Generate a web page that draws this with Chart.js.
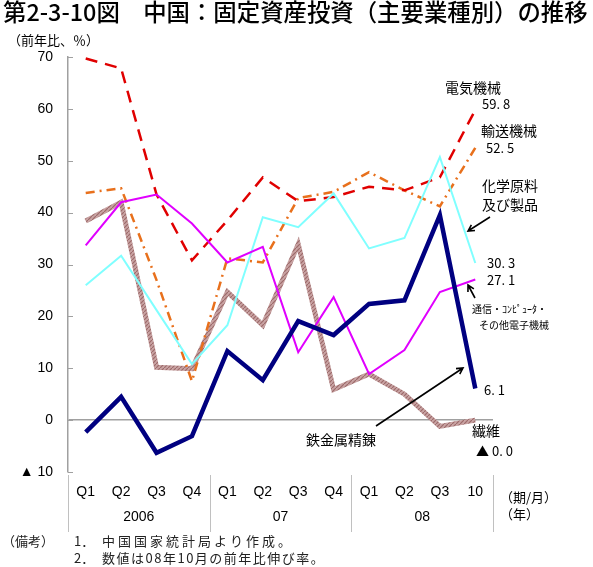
<!DOCTYPE html>
<html>
<head>
<meta charset="utf-8">
<script src="https://cdn.jsdelivr.net/npm/chart.js@4"></script>
<style>
  html, body { margin: 0; padding: 0; background: #fff; }
  #wrap { width: 593px; height: 567px; }
</style>
</head>
<body>
<div id="wrap"><canvas id="chart" width="593" height="567"></canvas></div>
<script>
'use strict';

// categories and year groups
var categories = ['Q1', 'Q2', 'Q3', 'Q4', 'Q1', 'Q2', 'Q3', 'Q4', 'Q1', 'Q2', 'Q3', '10'];
var years = ['2006', '07', '08'];
var yTicks = [-10, 0, 10, 20, 30, 40, 50, 60, 70];

// series values (前年比, %)
var denki  = [69.7, 67.8, 43.5, 30.8, 38.5, 46.8, 42.2, 43.0, 45.0, 44.3, 46.8, 59.8];
var yuso   = [43.8, 44.7, 27.0, 7.5, 31.2, 30.4, 42.8, 44.0, 47.8, 44.3, 41.2, 52.5];
var kagaku = [26.0, 31.7, 21.2, 10.8, 18.3, 39.1, 37.2, 43.7, 33.1, 35.1, 50.7, 30.3];
var tsushin = [33.7, 42.0, 43.5, 37.9, 30.4, 33.4, 13.1, 23.7, 8.9, 13.5, 24.7, 27.1];
var tekko  = [-2.3, 4.5, -6.3, -3.1, 13.3, 7.7, 19.1, 16.4, 22.4, 23.1, 39.5, 6.1];
var seni   = [38.4, 42.0, 10.2, 9.9, 24.7, 18.3, 33.9, 5.9, 8.9, 5.0, -1.2, 0.0];

var JP = '"Noto Sans CJK JP", sans-serif';
var NUM = '"Liberation Sans", Arial, sans-serif';

// striped brush for the textile line
function stripes() {
  var c = document.createElement('canvas');
  c.width = 4; c.height = 4;
  var g = c.getContext('2d');
  g.fillStyle = '#c9a3a3';
  g.fillRect(0, 0, 4, 4);
  g.strokeStyle = '#9c6b6b';
  g.lineWidth = 1.2;
  g.beginPath();
  g.moveTo(0, 4); g.lineTo(4, 0);
  g.stroke();
  return document.getElementById('chart').getContext('2d').createPattern(c, 'repeat');
}

function line(data, color, width, dash) {
  return {
    data: data,
    borderColor: color,
    borderWidth: width,
    borderDash: dash || [],
    pointRadius: 0,
    tension: 0,
    fill: false
  };
}

var txt = function (ctx, s, x, y, font, align) {
  ctx.font = font;
  ctx.textAlign = align || 'left';
  ctx.fillText(s, x, y);
};

var arrow = function (ctx, x1, y1, x2, y2) {
  var a = Math.atan2(y2 - y1, x2 - x1), h = 7;
  ctx.beginPath();
  ctx.moveTo(x1, y1); ctx.lineTo(x2, y2);
  ctx.moveTo(x2 - h * Math.cos(a - 0.5), y2 - h * Math.sin(a - 0.5));
  ctx.lineTo(x2, y2);
  ctx.lineTo(x2 - h * Math.cos(a + 0.5), y2 - h * Math.sin(a + 0.5));
  ctx.stroke();
};

var extras = {
  id: 'extras',
  afterDraw: function (chart) {
    var ctx = chart.ctx, x = chart.scales.x, y = chart.scales.y, area = chart.chartArea;
    ctx.save();
    ctx.fillStyle = '#000';
    ctx.textBaseline = 'middle';

    // title, fitted to width
    var title = '第2-3-10図　中国：固定資産投資（主要業種別）の推移';
    ctx.font = '500 17px ' + JP;
    var sz = 17 * 586 / ctx.measureText(title).width;
    txt(ctx, title, 3, 12, '500 ' + sz.toFixed(1) + 'px ' + JP);

    txt(ctx, '（前年比、％）', 8, 40, '13px ' + JP);

    // inner ticks on y axis
    ctx.strokeStyle = '#a0a0a0';
    ctx.lineWidth = 1;
    yTicks.forEach(function (v) {
      var py = Math.round(y.getPixelForValue(v)) + 0.5;
      ctx.beginPath(); ctx.moveTo(area.left, py); ctx.lineTo(area.left + 5, py); ctx.stroke();
    });

    // year separators and year labels
    var bounds = [area.left];
    [3, 7].forEach(function (i) {
      bounds.push((x.getPixelForValue(i) + x.getPixelForValue(i + 1)) / 2);
    });
    bounds.push(area.right);
    ctx.strokeStyle = '#c0c0c0';
    bounds.forEach(function (bx) {
      var px = Math.round(bx) + 0.5;
      ctx.beginPath(); ctx.moveTo(px, area.bottom + 3); ctx.lineTo(px, area.bottom + 60); ctx.stroke();
    });
    years.forEach(function (s, i) {
      txt(ctx, s, (bounds[i] + bounds[i + 1]) / 2, area.bottom + 45, '14px ' + NUM, 'center');
    });
    txt(ctx, '（期/月）', 500, 497, '13px ' + JP);
    txt(ctx, '（年）', 500, 514, '13px ' + JP);

    // notes
    ctx.fillStyle = '#222';
    txt(ctx, '（備考）', 2, 541, '13px ' + JP);
    txt(ctx, '1．', 74, 541, '13px ' + JP);
    txt(ctx, '2．', 74, 558, '13px ' + JP);
    ctx.letterSpacing = '3px';
    txt(ctx, '中国国家統計局より作成。', 102, 541, '13px ' + JP);
    ctx.letterSpacing = '1.5px';
    txt(ctx, '数値は08年10月の前年比伸び率。', 102, 558, '13px ' + JP);
    ctx.letterSpacing = '0px';
    ctx.fillStyle = '#000';

    // series labels
    var f = '14px ' + JP, n = '13px ' + JP;
    txt(ctx, '電気機械', 445, 88, f);
    txt(ctx, '59. 8', 482, 104, n);
    txt(ctx, '輸送機械', 481, 131, f);
    txt(ctx, '52. 5', 486, 148, n);
    txt(ctx, '化学原料', 482, 186, f);
    txt(ctx, '及び製品', 482, 205, f);
    txt(ctx, '30. 3', 487, 263, n);
    txt(ctx, '27. 1', 487, 280, n);
    txt(ctx, '通信・ｺﾝﾋﾟｭｰﾀ・', 472, 309, '10px ' + JP);
    txt(ctx, 'その他電子機械', 479, 325, '10px ' + JP);
    txt(ctx, '6. 1', 484, 390, n);
    txt(ctx, '鉄金属精錬', 306, 440, f);
    txt(ctx, '繊維', 472, 431, f);
    txt(ctx, '▲ 0. 0', 476, 451, n);

    ctx.strokeStyle = '#000';
    ctx.lineWidth = 1.6;
    arrow(ctx, 490, 217, 468, 231);
    arrow(ctx, 475, 298, 468, 285);
    arrow(ctx, 376, 426, 463, 368);
    ctx.restore();
  }
};

new Chart('chart', {
  type: 'line',
  data: {
    labels: categories,
    datasets: [
      line(tekko, '#000080', 4.5),
      line(tsushin, '#e000ff', 2),
      line(kagaku, '#80ffff', 2),
      line(denki, '#e00000', 2.5, [12, 8]),
      line(yuso, '#e8701c', 2.5, [9, 5, 2, 5]),
      line(seni, stripes(), 5)
    ]
  },
  options: {
    responsive: false,
    animation: false,
    layout: { padding: { left: 0, top: 57, right: 100, bottom: 0 } },
    plugins: { legend: { display: false }, tooltip: { enabled: false } },
    scales: {
      x: {
        offset: true,
        grid: { display: false, drawTicks: false },
        border: { display: false },
        ticks: { color: '#000', padding: 12, font: { family: NUM, size: 14 }, maxRotation: 0, autoSkip: false },
        afterFit: function (s) { s.height = 95; }
      },
      y: {
        min: -10,
        max: 70,
        afterBuildTicks: function (s) { s.ticks = yTicks.map(function (v) { return { value: v }; }); },
        grid: {
          drawTicks: false,
          color: function (c) { return c.tick && c.tick.value === 0 ? '#a0a0a0' : 'rgba(0,0,0,0)'; },
          lineWidth: 1.5
        },
        border: { display: true, color: '#a0a0a0', width: 1.5 },
        ticks: {
          color: '#000',
          padding: 15,
          font: { family: NUM, size: 14 },
          callback: function (v) { return v < 0 ? '▲ ' + Math.abs(v) : String(v); }
        },
        afterFit: function (s) { s.width = 68; }
      }
    }
  },
  plugins: [extras]
});
</script>
</body>
</html>
